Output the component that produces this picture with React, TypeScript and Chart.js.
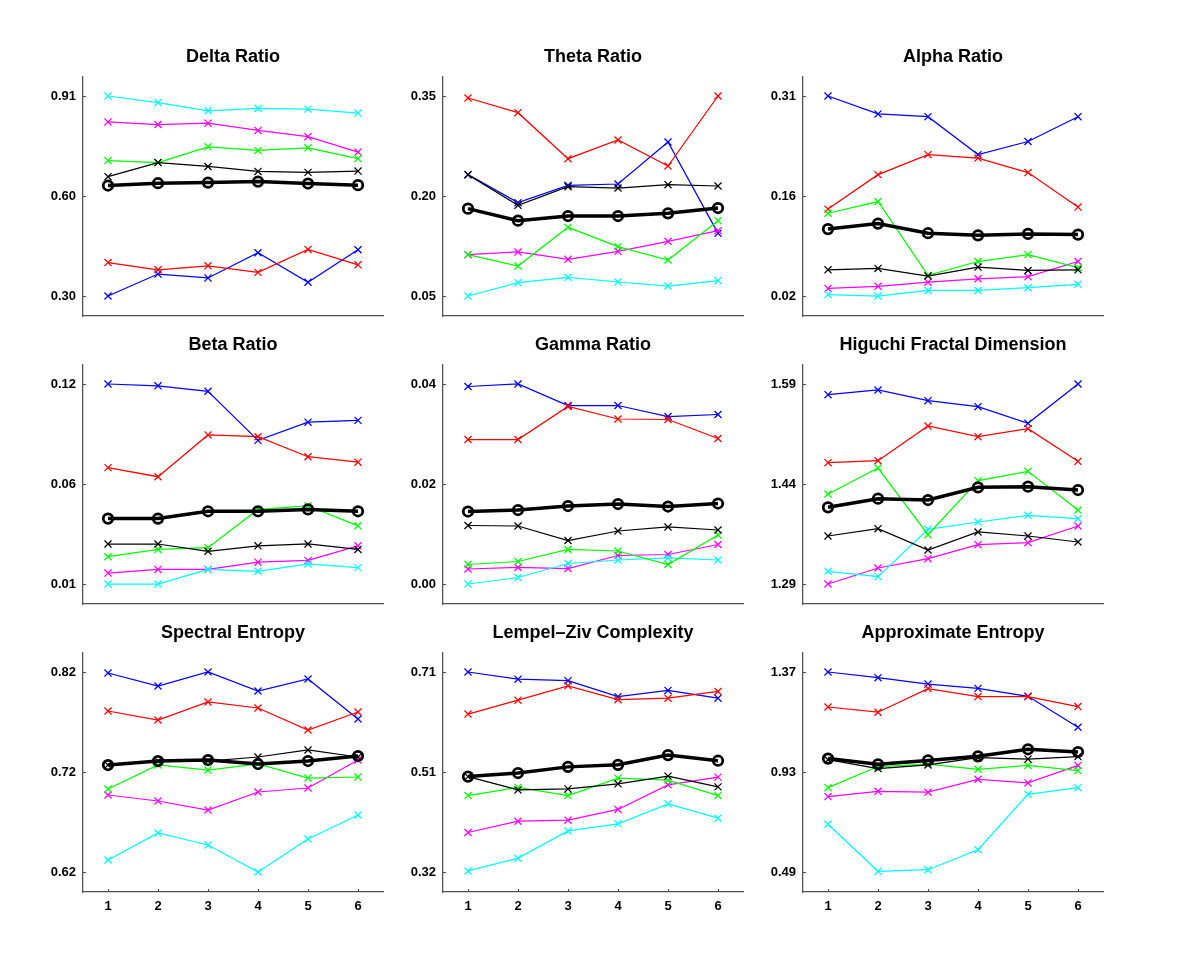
import React, { useEffect, useRef } from "react";
import { Chart, registerables } from "chart.js";

Chart.register(...registerables);

// ---- categories & panel texts ----
const categories = ["1", "2", "3", "4", "5", "6"];
const titles = [
  "Delta Ratio", "Theta Ratio", "Alpha Ratio",
  "Beta Ratio", "Gamma Ratio", "Higuchi Fractal Dimension",
  "Spectral Entropy", "Lempel\u2013Ziv Complexity", "Approximate Entropy",
];
const yTickValues = [
  [0.30, 0.605, 0.91], [0.05, 0.20, 0.35], [0.02, 0.165, 0.31],
  [0.01, 0.065, 0.12], [0.00, 0.02, 0.04], [1.29, 1.44, 1.59],
  [0.62, 0.72, 0.82], [0.32, 0.515, 0.71], [0.49, 0.93, 1.37],
];
const yTickLabels = [
  ["0.30", "0.60", "0.91"], ["0.05", "0.20", "0.35"], ["0.02", "0.16", "0.31"],
  ["0.01", "0.06", "0.12"], ["0.00", "0.02", "0.04"], ["1.29", "1.44", "1.59"],
  ["0.62", "0.72", "0.82"], ["0.32", "0.51", "0.71"], ["0.49", "0.93", "1.37"],
];

// ---- Delta Ratio ----
const deltaBlue = [0.300, 0.367, 0.355, 0.432, 0.342, 0.441];
const deltaRed = [0.402, 0.380, 0.392, 0.372, 0.442, 0.395];
const deltaGreen = [0.713, 0.707, 0.755, 0.744, 0.752, 0.719];
const deltaCyan = [0.910, 0.890, 0.865, 0.872, 0.870, 0.858];
const deltaMagenta = [0.831, 0.823, 0.827, 0.805, 0.786, 0.739];
const deltaBlack = [0.664, 0.707, 0.695, 0.680, 0.677, 0.681];
const deltaMean = [0.637, 0.644, 0.646, 0.649, 0.643, 0.638];

// ---- Theta Ratio ----
const thetaBlue = [0.232, 0.190, 0.216, 0.218, 0.281, 0.144];
const thetaRed = [0.347, 0.325, 0.256, 0.284, 0.245, 0.350];
const thetaGreen = [0.112, 0.095, 0.153, 0.124, 0.104, 0.163];
const thetaCyan = [0.050, 0.070, 0.078, 0.071, 0.065, 0.073];
const thetaMagenta = [0.112, 0.116, 0.105, 0.117, 0.132, 0.148];
const thetaBlack = [0.232, 0.186, 0.214, 0.212, 0.217, 0.215];
const thetaMean = [0.181, 0.163, 0.170, 0.170, 0.174, 0.182];

// ---- Alpha Ratio ----
const alphaBlue = [0.310, 0.284, 0.280, 0.225, 0.244, 0.280];
const alphaRed = [0.146, 0.196, 0.225, 0.220, 0.199, 0.149];
const alphaGreen = [0.140, 0.157, 0.050, 0.070, 0.080, 0.061];
const alphaCyan = [0.022, 0.020, 0.028, 0.028, 0.032, 0.037];
const alphaMagenta = [0.031, 0.034, 0.040, 0.045, 0.048, 0.070];
const alphaBlack = [0.058, 0.060, 0.049, 0.062, 0.057, 0.058];
const alphaMean = [0.117, 0.125, 0.111, 0.108, 0.110, 0.109];

// ---- Beta Ratio ----
const betaBlue = [0.120, 0.119, 0.116, 0.089, 0.099, 0.100];
const betaRed = [0.074, 0.069, 0.092, 0.091, 0.080, 0.077];
const betaGreen = [0.025, 0.029, 0.030, 0.051, 0.053, 0.042];
const betaCyan = [0.010, 0.010, 0.018, 0.017, 0.021, 0.019];
const betaMagenta = [0.016, 0.018, 0.018, 0.022, 0.023, 0.031];
const betaBlack = [0.032, 0.032, 0.028, 0.031, 0.032, 0.029];
const betaMean = [0.046, 0.046, 0.050, 0.050, 0.051, 0.050];

// ---- Gamma Ratio ----
const gammaBlue = [0.0395, 0.0400, 0.0357, 0.0357, 0.0335, 0.0339];
const gammaRed = [0.0289, 0.0289, 0.0355, 0.0330, 0.0329, 0.0291];
const gammaGreen = [0.0039, 0.0045, 0.0069, 0.0066, 0.0039, 0.0098];
const gammaCyan = [0.0000, 0.0013, 0.0041, 0.0048, 0.0052, 0.0048];
const gammaMagenta = [0.0030, 0.0033, 0.0031, 0.0057, 0.0059, 0.0079];
const gammaBlack = [0.0117, 0.0116, 0.0087, 0.0106, 0.0114, 0.0108];
const gammaMean = [0.0145, 0.0148, 0.0156, 0.0160, 0.0155, 0.0161];

// ---- Higuchi Fractal Dimension ----
const hfdBlue = [1.574, 1.581, 1.565, 1.556, 1.531, 1.590];
const hfdRed = [1.472, 1.475, 1.527, 1.511, 1.523, 1.474];
const hfdGreen = [1.425, 1.464, 1.364, 1.445, 1.459, 1.401];
const hfdCyan = [1.309, 1.301, 1.372, 1.383, 1.393, 1.388];
const hfdMagenta = [1.290, 1.314, 1.328, 1.349, 1.352, 1.377];
const hfdBlack = [1.362, 1.373, 1.341, 1.368, 1.362, 1.353];
const hfdMean = [1.405, 1.418, 1.416, 1.435, 1.436, 1.431];

// ---- Spectral Entropy ----
const seBlue = [0.819, 0.806, 0.820, 0.801, 0.813, 0.773];
const seRed = [0.781, 0.772, 0.790, 0.784, 0.762, 0.780];
const seGreen = [0.703, 0.727, 0.722, 0.728, 0.714, 0.715];
const seCyan = [0.632, 0.659, 0.647, 0.620, 0.653, 0.677];
const seMagenta = [0.697, 0.691, 0.682, 0.700, 0.704, 0.732];
const seBlack = [0.727, 0.731, 0.731, 0.735, 0.742, 0.735];
const seMean = [0.727, 0.731, 0.732, 0.728, 0.731, 0.736];

// ---- Lempel-Ziv Complexity ----
const lzBlue = [0.710, 0.696, 0.693, 0.662, 0.674, 0.659];
const lzRed = [0.628, 0.655, 0.683, 0.656, 0.659, 0.672];
const lzGreen = [0.469, 0.485, 0.469, 0.503, 0.499, 0.469];
const lzCyan = [0.322, 0.347, 0.400, 0.414, 0.453, 0.425];
const lzMagenta = [0.397, 0.419, 0.421, 0.442, 0.490, 0.505];
const lzBlack = [0.506, 0.480, 0.482, 0.492, 0.507, 0.486];
const lzMean = [0.506, 0.513, 0.525, 0.529, 0.548, 0.537];

// ---- Approximate Entropy ----
const apBlue = [1.370, 1.345, 1.317, 1.298, 1.263, 1.127];
const apRed = [1.216, 1.193, 1.297, 1.262, 1.262, 1.218];
const apGreen = [0.861, 0.954, 0.965, 0.942, 0.959, 0.936];
const apCyan = [0.700, 0.493, 0.500, 0.588, 0.832, 0.861];
const apMagenta = [0.822, 0.845, 0.841, 0.898, 0.882, 0.959];
const apBlack = [0.984, 0.945, 0.961, 0.993, 0.987, 0.998];
const apMean = [0.989, 0.964, 0.981, 0.999, 1.030, 1.018];

// series order: mean, black, green, cyan, magenta, red, blue
const panelSeries = [
  [deltaMean, deltaBlack, deltaGreen, deltaCyan, deltaMagenta, deltaRed, deltaBlue],
  [thetaMean, thetaBlack, thetaGreen, thetaCyan, thetaMagenta, thetaRed, thetaBlue],
  [alphaMean, alphaBlack, alphaGreen, alphaCyan, alphaMagenta, alphaRed, alphaBlue],
  [betaMean, betaBlack, betaGreen, betaCyan, betaMagenta, betaRed, betaBlue],
  [gammaMean, gammaBlack, gammaGreen, gammaCyan, gammaMagenta, gammaRed, gammaBlue],
  [hfdMean, hfdBlack, hfdGreen, hfdCyan, hfdMagenta, hfdRed, hfdBlue],
  [seMean, seBlack, seGreen, seCyan, seMagenta, seRed, seBlue],
  [lzMean, lzBlack, lzGreen, lzCyan, lzMagenta, lzRed, lzBlue],
  [apMean, apBlack, apGreen, apCyan, apMagenta, apRed, apBlue],
];
const seriesColors = ["#000000", "#000000", "#00ff00", "#00ffff", "#ff00ff", "#ff0000", "#0000ff"];

const FONT = "'Liberation Sans', Arial, Helvetica, sans-serif";
const AXIS_COLOR = "#505050";

const innerTicks = {
  id: "innerTicks",
  afterDraw(chart: any, _args: any, opts: any) {
    const { ctx, chartArea, scales } = chart;
    ctx.save();
    ctx.strokeStyle = AXIS_COLOR;
    ctx.lineWidth = 1;
    const ys = scales.y;
    ys.ticks.forEach((_t: any, i: number) => {
      const y = Math.round(ys.getPixelForTick(i)) + 0.5;
      ctx.beginPath();
      ctx.moveTo(chartArea.left, y);
      ctx.lineTo(chartArea.left + 3, y);
      ctx.stroke();
    });
    if (opts && opts.showX) {
      const xs = scales.x;
      xs.ticks.forEach((_t: any, i: number) => {
        const x = Math.round(xs.getPixelForTick(i)) + 0.5;
        ctx.beginPath();
        ctx.moveTo(x, chartArea.bottom);
        ctx.lineTo(x, chartArea.bottom - 3);
        ctx.stroke();
      });
    }
    ctx.restore();
  },
};

const CANVAS_W = 360;
const Y_AXIS_W = 50;
const PLOT_W = 300;
const PLOT_H = 239;
const TITLE_H = 40;

function Panel({ index }: { index: number }) {
  const ref = useRef<HTMLCanvasElement | null>(null);
  const col = index % 3;
  const row = Math.floor(index / 3);
  const isBottom = row === 2;
  const bottomH = isBottom ? 30 : 10;
  const tickTop = [96, 384, 672][row];
  const plotTop = tickTop - 19;
  const left = 83 + 360 * col - Y_AXIS_W;
  const top = plotTop - TITLE_H;
  const height = TITLE_H + PLOT_H + bottomH;

  useEffect(() => {
    if (!ref.current) return;
    const tv = yTickValues[index];
    const tl = yTickLabels[index];
    const span = tv[2] - tv[0];
    const yMin = tv[0] - (span * 20) / 200;
    const yMax = tv[2] + (span * 19) / 200;
    const datasets = panelSeries[index].map((data, si) => {
      const isMean = si === 0;
      return {
        data,
        borderColor: seriesColors[si],
        backgroundColor: "rgba(0,0,0,0)",
        borderWidth: isMean ? 3.5 : 1.25,
        pointStyle: isMean ? "circle" : "crossRot",
        pointRadius: isMean ? 4.75 : 5,
        pointBorderWidth: isMean ? 2.75 : 1.25,
        pointBorderColor: seriesColors[si],
        pointBackgroundColor: "rgba(0,0,0,0)",
        tension: 0,
        fill: false,
      };
    });
    const chart = new Chart(ref.current, {
      type: "line",
      data: { labels: categories, datasets: datasets as any },
      plugins: [innerTicks as any],
      options: {
        responsive: false,
        animation: false,
        devicePixelRatio: 1,
        layout: { padding: { left: 0, top: 0, right: CANVAS_W - Y_AXIS_W - PLOT_W, bottom: 0 } },
        plugins: {
          legend: { display: false },
          tooltip: { enabled: false },
          title: {
            display: true,
            text: titles[index],
            fullSize: false,
            color: "#000000",
            font: { family: FONT, size: 18, weight: "bold", lineHeight: "20px" } as any,
            padding: { top: 10, bottom: 10 },
          },
          innerTicks: { showX: isBottom },
        } as any,
        scales: {
          x: {
            type: "category",
            offset: true,
            grid: { display: false, drawTicks: false },
            border: { display: true, color: AXIS_COLOR, width: 1.25 },
            ticks: {
              display: isBottom,
              color: "#000000",
              padding: 7,
              font: { family: FONT, size: 13, weight: "bold" } as any,
              maxRotation: 0,
              autoSkip: false,
            },
            afterFit: (s: any) => {
              s.height = bottomH;
              s.paddingLeft = 0;
              s.paddingRight = 0;
            },
          },
          y: {
            type: "linear",
            min: yMin,
            max: yMax,
            grid: { display: false, drawTicks: false },
            border: { display: true, color: AXIS_COLOR, width: 1.25 },
            ticks: {
              color: "#000000",
              padding: 7,
              font: { family: FONT, size: 13, weight: "bold" } as any,
              callback: (_v: any, i: number) => tl[i],
            },
            afterBuildTicks: (s: any) => {
              s.ticks = tv.map((v) => ({ value: v }));
            },
            afterFit: (s: any) => {
              s.width = Y_AXIS_W;
              s.paddingTop = 0;
              s.paddingBottom = 0;
            },
          },
        } as any,
      },
    });
    return () => chart.destroy();
  }, [index]);

  return (
    <canvas
      ref={ref}
      width={CANVAS_W}
      height={height}
      style={{ position: "absolute", left, top, width: CANVAS_W, height, display: "block" }}
    />
  );
}

export default function App() {
  return (
    <div
      style={{
        position: "absolute",
        left: 0,
        top: 0,
        width: 1200,
        height: 959,
        background: "#ffffff",
        overflow: "hidden",
      }}
    >
      {titles.map((_t, i) => (
        <Panel key={i} index={i} />
      ))}
    </div>
  );
}
